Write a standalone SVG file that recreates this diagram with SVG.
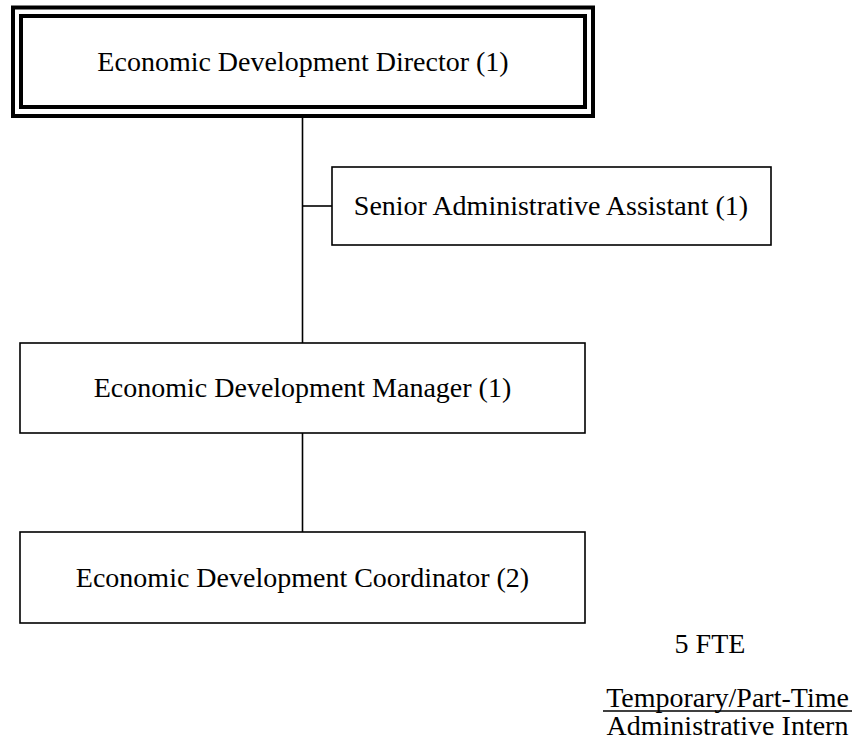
<svg xmlns="http://www.w3.org/2000/svg" width="858" height="747" viewBox="0 0 858 747">
<style>
text{font-family:"Liberation Serif","Times New Roman",serif;font-size:28px;fill:#000;text-anchor:middle}
.box{fill:#fff;stroke:#000;stroke-width:1.6}
.dbl{fill:none;stroke:#000;stroke-width:4}
.conn{stroke:#000;stroke-width:1.6;fill:none}
</style>
<rect width="858" height="747" fill="#fff"/>
<g id="connectors">
<line class="conn" x1="302.5" y1="118" x2="302.5" y2="343"/>
<line class="conn" x1="302.5" y1="206" x2="332" y2="206"/>
<line class="conn" x1="302.5" y1="433" x2="302.5" y2="532"/>
</g>
<g id="director">
<rect x="13" y="7.5" width="580" height="108.5" fill="#fff" class="dbl"/>
<rect x="21" y="16" width="564" height="91" class="dbl"/>
<text x="303" y="71">Economic Development Director (1)</text>
</g>
<g id="assistant">
<rect class="box" x="332" y="167" width="439" height="78"/>
<text x="551" y="215">Senior Administrative Assistant (1)</text>
</g>
<g id="manager">
<rect class="box" x="20" y="343" width="565" height="90"/>
<text x="302.5" y="397">Economic Development Manager (1)</text>
</g>
<g id="coordinator">
<rect class="box" x="20" y="532" width="565" height="91"/>
<text x="302.5" y="587">Economic Development Coordinator (2)</text>
</g>
<g id="notes">
<text x="710" y="653">5 FTE</text>
<text x="727.5" y="707">Temporary/Part-Time</text>
<line x1="603" y1="711" x2="852" y2="711" stroke="#000" stroke-width="1.5"/>
<text x="727.5" y="735">Administrative Intern</text>
</g>
</svg>
